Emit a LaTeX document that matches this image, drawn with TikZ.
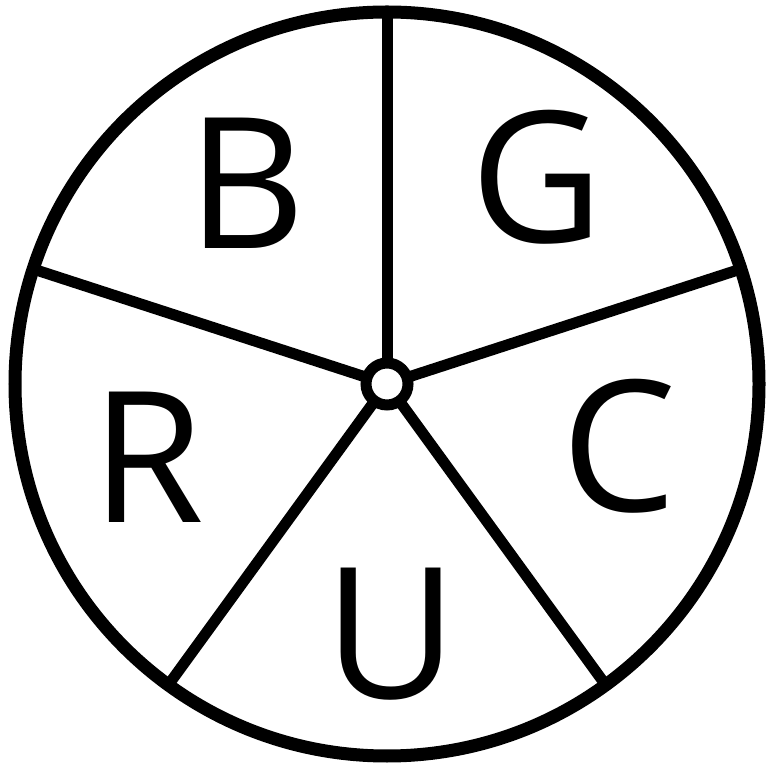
\documentclass[tikz,border=0pt]{standalone}
\usepackage{fontspec}
\setsansfont{Open Sans}
\usepackage{tikz}
\usetikzlibrary{calc}
\tikzset{
  rim/.style={line width=0.13cm, draw=black},
  spoke/.style={line width=0.11cm, draw=black},
  hub/.style={circle, line width=0.11cm, draw=black, fill=white,
              minimum size=0.42cm, inner sep=0pt},
  letter/.style={font=\sffamily\fontsize{52}{52}\selectfont},
}
\begin{document}
\begin{tikzpicture}
  \useasboundingbox (0,0) rectangle (7.68,7.65);
  \coordinate (c) at (3.87,3.81);
  \draw[rim] (c) circle (3.72);

  % rim points of the spokes
  \foreach \a [count=\i] in {90,18,-54,-126,162}
    \coordinate (p\i) at ($(c)+(\a:3.72)$);
  \foreach \i in {1,...,5}
    \draw[spoke] (c) -- (p\i);
  \node[hub] (hub) at (c) {};

  % sector letters
  \node[letter] (b) at ($(c)+(125:2.45)$) {B};
  \node[letter] (g) at ($(c)+(54:2.55)$) {G};
  \node[letter] (cc) at ($(c)+(-15:2.4)$) {C};
  \node[letter] (u) at ($(c)+(-89:2.5)$) {U};
  \node[letter] (r) at ($(c)+(197:2.5)$) {R};
\end{tikzpicture}
\end{document}
